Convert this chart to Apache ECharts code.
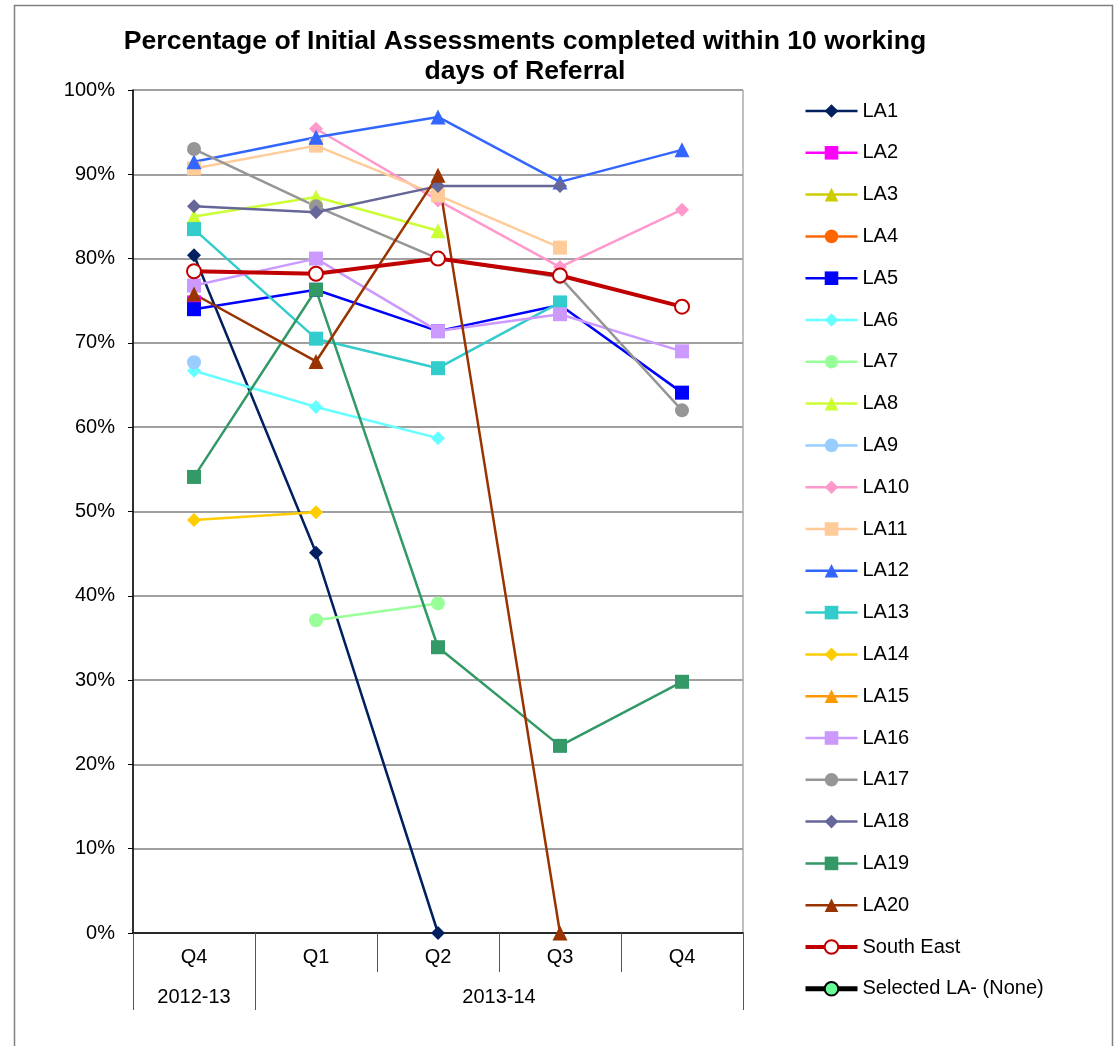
<!DOCTYPE html>
<html>
<head>
<meta charset="utf-8">
<script src="https://cdn.jsdelivr.net/npm/echarts@6/dist/echarts.min.js"></script>
<style>
  html, body { margin: 0; padding: 0; background: #fff; }
  #chart { width: 1115px; height: 1046px; }
</style>
</head>
<body>
<div id="chart"></div>
<script>
    // Categories
    var quarters = ['Q4', 'Q1', 'Q2', 'Q3', 'Q4'];
    var years = ['2012-13', '2013-14'];
    var yTicks = [0, 10, 20, 30, 40, 50, 60, 70, 80, 90, 100];

    // Values (%), one per quarter
    var la1  = [80.4, 45.1, 0, null, null];
    var la2  = [74.8, null, null, null, null];
    var la3  = [null, null, null, null, null];
    var la4  = [null, null, null, null, null];
    var la5  = [74.0, 76.3, 71.4, 74.5, 64.1];
    var la6  = [66.7, 62.4, 58.7, null, null];
    var la7  = [null, 37.1, 39.1, null, null];
    var la8  = [85.0, 87.3, 83.3, null, null];
    var la9  = [67.7, null, null, null, null];
    var la10 = [null, 95.4, 86.9, 79.0, 85.8];
    var la11 = [90.7, 93.4, 87.5, 81.3, null];
    var la12 = [91.5, 94.4, 96.8, 89.1, 92.9];
    var la13 = [83.5, 70.5, 67.0, 74.8, null];
    var la14 = [49.0, 49.9, null, null, null];
    var la15 = [null, null, null, null, null];
    var la16 = [76.8, 80.0, 71.4, 73.4, 69.0];
    var la17 = [93.0, 86.2, 80.0, 77.8, 62.0];
    var la18 = [86.2, 85.5, 88.6, 88.6, null];
    var la19 = [54.1, 76.3, 33.9, 22.2, 29.8];
    var la20 = [75.8, 67.8, 89.9, 0, null];
    var southEast = [78.5, 78.2, 80.0, 78.0, 74.3];
    var selectedLA = [null, null, null, null, null];

    // name, data, colour, symbol
    var seriesDefs = [
        ['LA1', la1, '#002060', 'diamond'],
        ['LA2', la2, '#ff00ff', 'rect'],
        ['LA3', la3, '#cccc00', 'triangle'],
        ['LA4', la4, '#ff6600', 'circle'],
        ['LA5', la5, '#0000ff', 'rect'],
        ['LA6', la6, '#66ffff', 'diamond'],
        ['LA7', la7, '#99ff99', 'circle'],
        ['LA8', la8, '#ccff33', 'triangle'],
        ['LA9', la9, '#99ccff', 'circle'],
        ['LA10', la10, '#ff99cc', 'diamond'],
        ['LA11', la11, '#ffcc99', 'rect'],
        ['LA12', la12, '#3366ff', 'triangle'],
        ['LA13', la13, '#33cccc', 'rect'],
        ['LA14', la14, '#ffcc00', 'diamond'],
        ['LA15', la15, '#ff9900', 'triangle'],
        ['LA16', la16, '#cc99ff', 'rect'],
        ['LA17', la17, '#969696', 'circle'],
        ['LA18', la18, '#666699', 'diamond'],
        ['LA19', la19, '#339966', 'rect'],
        ['LA20', la20, '#993300', 'triangle']
    ];

    var symbolSizes = { diamond: 14, rect: 14, triangle: 15, circle: 14 };

    var series = seriesDefs.map(function (d) {
        return {
            name: d[0],
            type: 'line',
            data: d[1],
            symbol: d[3],
            symbolSize: symbolSizes[d[3]],
            showAllSymbol: true,
            connectNulls: false,
            lineStyle: { color: d[2], width: 2.5 },
            itemStyle: { color: d[2] },
            emphasis: { disabled: true },
            animation: false
        };
    });

    series.push({
        name: 'South East',
        type: 'line',
        data: southEast,
        symbol: 'emptyCircle',
        symbolSize: 14,
        lineStyle: { color: '#c00000', width: 4 },
        itemStyle: { color: '#c00000', borderColor: '#c00000', borderWidth: 2 },
        emphasis: { disabled: true },
        animation: false
    });

    series.push({
        name: 'Selected LA- (None)',
        type: 'line',
        data: selectedLA,
        symbol: 'circle',
        symbolSize: 12,
        lineStyle: { color: '#000000', width: 5 },
        itemStyle: { color: '#66ff99', borderColor: '#000000', borderWidth: 1.5 },
        animation: false
    });

    // legend entries, line widths as in the original key
    var legendData = series.map(function (s) {
        return { name: s.name, lineStyle: { width: s.lineStyle.width } };
    });

    // year slots: 11 points across the 5 quarters, labels at group centres
    var yearSlots = ['', years[0], '', '', '', '', years[1], '', '', '', ''];
    var yearTicks = [0, 2, 10];

    var font = 'Arial, "Liberation Sans", sans-serif';

    var chart = echarts.init(document.getElementById('chart'), null, { renderer: 'canvas' });

    chart.setOption({
        backgroundColor: '#ffffff',
        animation: false,
        graphic: [
            {
                type: 'rect',
                shape: { x: 14.5, y: 5.5, width: 1098, height: 1100 },
                style: { fill: 'none', stroke: '#808080', lineWidth: 1.5 },
                silent: true
            },
            {
                type: 'text',
                x: 525,
                y: 27,
                style: {
                    text: 'Percentage of Initial Assessments completed within 10 working\ndays of Referral',
                    font: 'bold 26.6px ' + font,
                    fill: '#000',
                    textAlign: 'center',
                    textVerticalAlign: 'top',
                    lineHeight: 30
                },
                silent: true
            }
        ],
        legend: {
            orient: 'vertical',
            left: 798,
            top: 96,
            height: 945,
            itemWidth: 52,
            itemHeight: 17,
            itemGap: 21.8,
            selectedMode: false,
            textStyle: { fontFamily: font, fontSize: 20, color: '#000' },
            data: legendData
        },
        grid: {
            left: 133,
            right: 372,
            top: 90,
            bottom: 113,
            show: true,
            borderColor: '#808080',
            borderWidth: 1,
            containLabel: false
        },
        xAxis: [
            {
                type: 'category',
                data: quarters,
                boundaryGap: true,
                position: 'bottom',
                axisLine: { show: true, lineStyle: { color: '#000', width: 1.5 } },
                axisTick: { show: true, length: 39, interval: 0, lineStyle: { color: '#555', width: 1 } },
                axisLabel: { fontFamily: font, fontSize: 20, color: '#000', margin: 14, interval: 0 },
                splitLine: { show: false }
            },
            {
                type: 'category',
                data: yearSlots,
                boundaryGap: false,
                position: 'bottom',
                offset: 0,
                axisLine: { show: false },
                axisTick: {
                    show: true,
                    length: 77,
                    interval: function (index) { return yearTicks.indexOf(index) >= 0; },
                    lineStyle: { color: '#555', width: 1 }
                },
                axisLabel: { fontFamily: font, fontSize: 20, color: '#000', margin: 54, interval: 0 },
                splitLine: { show: false }
            }
        ],
        yAxis: {
            type: 'value',
            min: yTicks[0],
            max: yTicks[yTicks.length - 1],
            interval: yTicks[1] - yTicks[0],
            axisLine: { show: true, lineStyle: { color: '#000', width: 1.5 } },
            axisTick: { show: true, length: 5, inside: false, lineStyle: { color: '#000' } },
            axisLabel: { fontFamily: font, fontSize: 20, color: '#000', margin: 18, formatter: '{value}%' },
            splitLine: { show: true, lineStyle: { color: '#a0a0a0', width: 2 } }
        },
        series: series
    });
</script>
</body>
</html>
